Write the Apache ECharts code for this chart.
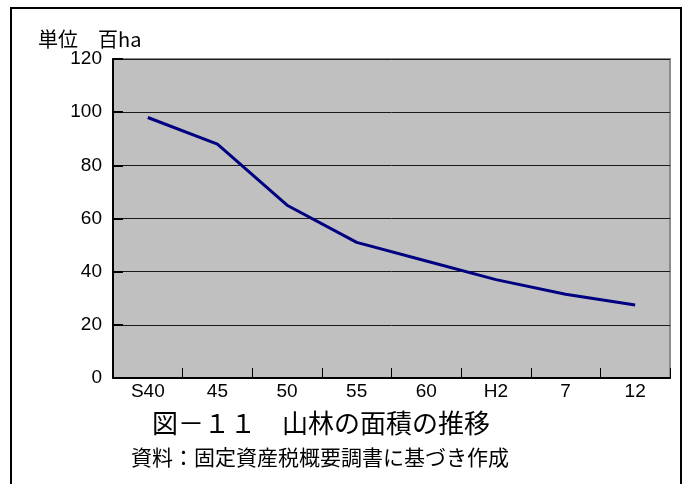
<!DOCTYPE html>
<html>
<head>
<meta charset="utf-8">
<script src="https://cdn.jsdelivr.net/npm/echarts@6/dist/echarts.min.js"></script>
<style>
  html, body { margin: 0; padding: 0; background: #fff; }
  #chart { width: 683px; height: 484px; }
</style>
</head>
<body>
<div id="chart"></div>
<script>
// 山林の面積（単位：百ha）
const categories = ['S40', '45', '50', '55', '60', 'H2', '7', '12'];
const forestArea = [98, 88, 65, 51, 44, 37, 31.5, 27.5];
const yTicks = { min: 0, max: 120, interval: 20 };

const unitLabel = '単位　百ha';
const figureTitle = '図－１１　山林の面積の推移';
const sourceNote = '資料：固定資産税概要調書に基づき作成';

const latinFont = '"Liberation Sans", Arial, sans-serif';
const cjkFont = '"Noto Sans CJK JP", "Liberation Sans", sans-serif';

const chart = echarts.init(document.getElementById('chart'), null, { renderer: 'canvas' });

chart.setOption({
  backgroundColor: '#ffffff',
  animation: false,
  grid: {
    left: 113, right: 13, top: 59, bottom: 106,
    show: true,
    backgroundColor: '#c0c0c0',
    borderColor: '#8c8c8c',
    borderWidth: 2
  },
  xAxis: {
    type: 'category',
    data: categories,
    boundaryGap: true,
    axisLine: { show: true, lineStyle: { color: '#000', width: 2 } },
    axisTick: { show: true, inside: true, length: 10, lineStyle: { color: '#000', width: 1 } },
    axisLabel: { color: '#000', fontFamily: latinFont, fontSize: 19, margin: 4 },
    splitLine: { show: false }
  },
  yAxis: {
    type: 'value',
    min: yTicks.min,
    max: yTicks.max,
    interval: yTicks.interval,
    axisLine: { show: true, lineStyle: { color: '#000', width: 2 } },
    axisTick: { show: true, inside: true, length: 10, lineStyle: { color: '#000', width: 2 } },
    axisLabel: { color: '#000', fontFamily: latinFont, fontSize: 19, margin: 11 },
    splitLine: { show: true, lineStyle: { color: '#1a1a1a', width: 1 } }
  },
  series: [{
    type: 'line',
    data: forestArea,
    showSymbol: false,
    symbol: 'none',
    lineStyle: { color: '#000080', width: 3 },
    z: 5
  }],
  graphic: [
    {
      type: 'rect',
      shape: { x: 11, y: 8, width: 670, height: 500 },
      style: { fill: 'none', stroke: '#000', lineWidth: 2 },
      silent: true
    },
    {
      type: 'text',
      x: 38, y: 39,
      style: {
        text: unitLabel, fill: '#000',
        font: '20px ' + cjkFont,
        textVerticalAlign: 'middle'
      }
    },
    {
      type: 'text',
      x: 321, y: 423,
      style: {
        text: figureTitle, fill: '#000',
        font: '26px ' + cjkFont,
        textAlign: 'center', textVerticalAlign: 'middle'
      }
    },
    {
      type: 'text',
      x: 320, y: 457,
      style: {
        text: sourceNote, fill: '#000',
        font: '21px ' + cjkFont,
        textAlign: 'center', textVerticalAlign: 'middle'
      }
    }
  ]
});
</script>
</body>
</html>
